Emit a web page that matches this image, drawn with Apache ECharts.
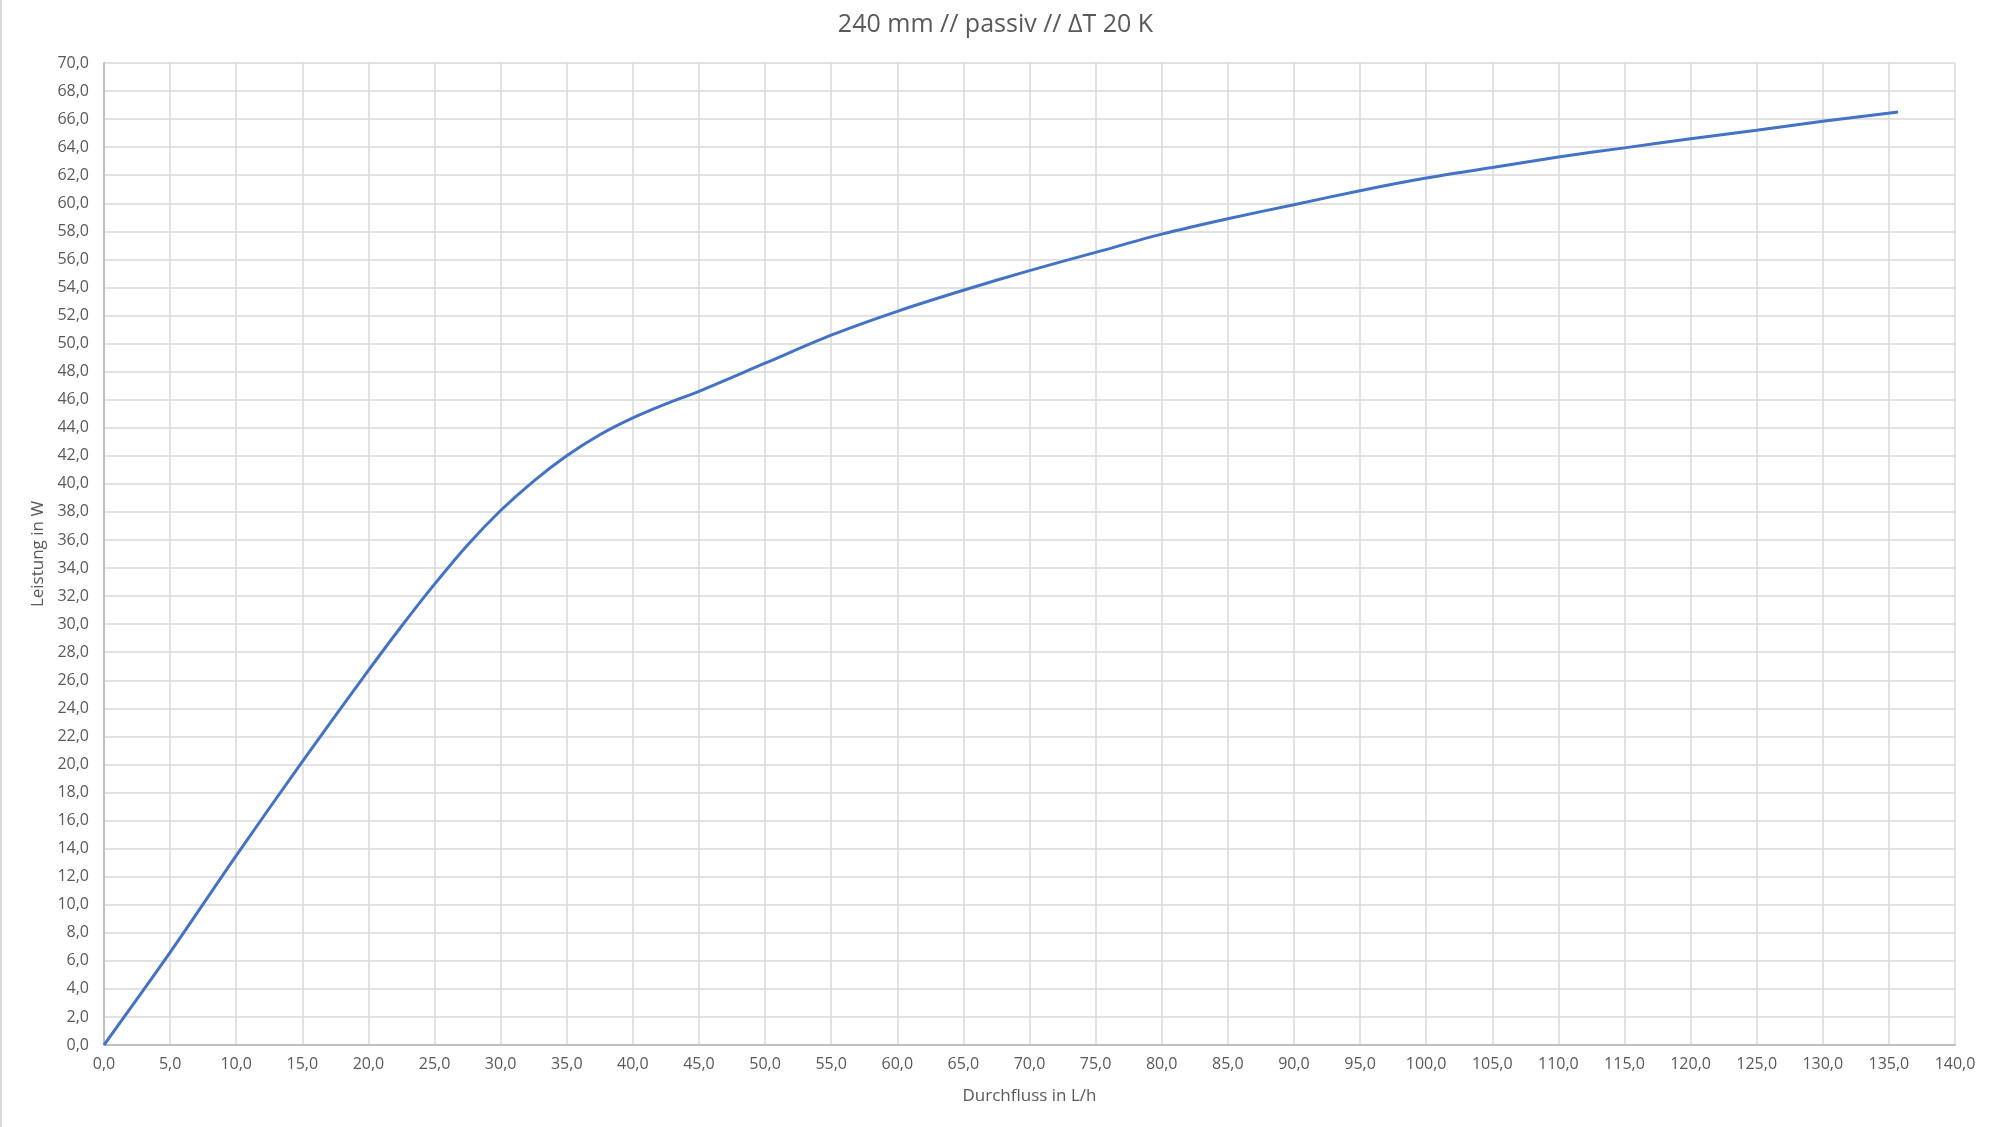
<!DOCTYPE html>
<html>
<head>
<meta charset="utf-8">
<script src="https://cdn.jsdelivr.net/npm/echarts@6/dist/echarts.min.js"></script>
<style>
html,body{margin:0;padding:0;background:#fff;}
#chart{width:1989px;height:1127px;box-sizing:border-box;border-left:2px solid #d9d9d9;}
</style>
</head>
<body>
<div id="chart"></div>
<script>
const flow = [0, 5, 10, 15, 20, 22.5, 25, 27.5, 30, 32.5, 35, 37.5, 40, 42.5, 45, 50, 55, 60, 65, 70, 75, 80, 85, 90, 95, 100, 105, 110, 115, 120, 125, 130, 135.7];
const power = [0, 6.6, 13.5, 20.2, 26.7, 29.85, 32.85, 35.65, 38.1, 40.2, 42.0, 43.5, 44.7, 45.7, 46.6, 48.6, 50.6, 52.3, 53.8, 55.2, 56.5, 57.8, 58.9, 59.9, 60.9, 61.8, 62.55, 63.3, 63.95, 64.6, 65.2, 65.85, 66.5];
const titleText = '240 mm // passiv // ΔT 20 K';
const xName = 'Durchfluss in L/h';
const yName = 'Leistung in W';

const fmt = v => v.toFixed(1).replace('.', ',');
const FONT = '"Open Sans", sans-serif';
const TXT = '#595959';

const chart = echarts.init(document.getElementById('chart'));
chart.setOption({
  animation: false,
  backgroundColor: '#fff',
  title: {
    text: titleText,
    left: 'center',
    top: 7,
    textStyle: {fontFamily: FONT, fontSize: 25, fontWeight: 'normal', color: TXT}
  },
  grid: {left: 102, top: 63, right: 34, bottom: 82, containLabel: false},
  xAxis: {
    type: 'value', min: 0, max: 140, interval: 5,
    name: xName, nameLocation: 'middle', nameGap: 43,
    nameTextStyle: {fontFamily: FONT, fontSize: 17, color: TXT},
    axisLine: {show: true, lineStyle: {color: '#bfbfbf', width: 2}},
    axisTick: {show: false},
    axisLabel: {formatter: fmt, fontFamily: FONT, fontSize: 16, color: TXT, margin: 11},
    splitLine: {show: true, lineStyle: {color: '#d9d9d9', width: 1.5}}
  },
  yAxis: {
    type: 'value', min: 0, max: 70, interval: 2,
    name: yName, nameLocation: 'middle', nameGap: 57,
    nameTextStyle: {fontFamily: FONT, fontSize: 17, color: TXT},
    axisLine: {show: true, lineStyle: {color: '#bfbfbf', width: 2}},
    axisTick: {show: false},
    axisLabel: {formatter: fmt, fontFamily: FONT, fontSize: 16, color: TXT, margin: 15},
    splitLine: {show: true, lineStyle: {color: '#d9d9d9', width: 1.5}}
  },
  series: [{
    type: 'line',
    data: flow.map((x, i) => [x, power[i]]),
    smooth: 0.3,
    showSymbol: false,
    lineStyle: {color: '#4472C4', width: 3},
    itemStyle: {color: '#4472C4'}
  }]
});
</script>
</body>
</html>
